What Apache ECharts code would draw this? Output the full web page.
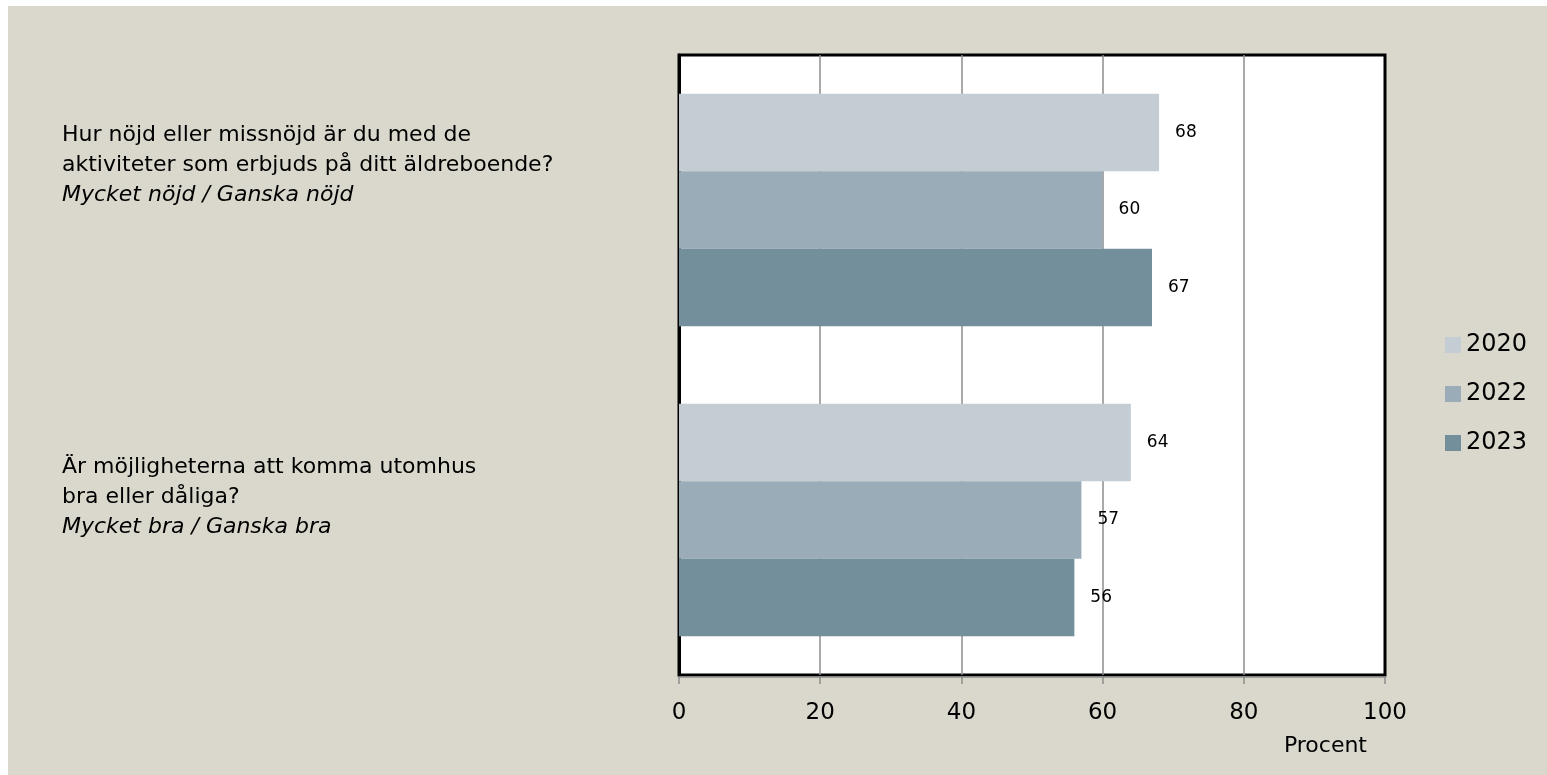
<!DOCTYPE html>
<html>
<head>
<meta charset="utf-8">
<script src="https://cdn.jsdelivr.net/npm/echarts@6/dist/echarts.min.js"></script>
<style>
html,body{margin:0;padding:0;background:#ffffff;}
#chart{position:absolute;left:8px;top:6px;width:1539px;height:769px;}
</style>
</head>
<body>
<div id="chart"></div>
<script>
var questionLines = [
  ["Hur nöjd eller missnöjd är du med de", "aktiviteter som erbjuds på ditt äldreboende?", "Mycket nöjd / Ganska nöjd"],
  ["Är möjligheterna att komma utomhus", "bra eller dåliga?", "Mycket bra / Ganska bra"]
];
var categories = ["Q1", "Q2"];
var seriesNames = ["2020", "2022", "2023"];
var values2020 = [68, 64];
var values2022 = [60, 57];
var values2023 = [67, 56];
var xTicks = [0, 20, 40, 60, 80, 100];
var xAxisName = "Procent";
var colors = ["#c3cdd3", "#99acb7", "#748f9c"];

var chart = echarts.init(document.getElementById('chart'));
var fontFam = "'DejaVu Sans', sans-serif";
function mkSeries(name, data, color) {
  return {
    name: name, type: 'bar', data: data,
    barGap: '0%', barCategoryGap: '25%',
    itemStyle: { color: color },
    label: { show: true, position: 'right', distance: 16, fontSize: 17, color: '#000', fontFamily: fontFam }
  };
}
chart.setOption({
  backgroundColor: '#dad8cc',
  textStyle: { fontFamily: fontFam },
  legend: {
    orient: 'vertical', left: 1432, top: 322,
    itemWidth: 16, itemHeight: 16, itemGap: 25,
    icon: 'rect',
    textStyle: { fontSize: 24, color: '#000', fontFamily: fontFam },
    data: seriesNames
  },
  grid: {
    left: 671, top: 49, width: 706, height: 620,
    show: true, backgroundColor: '#ffffff', borderColor: '#000', borderWidth: 3
  },
  xAxis: {
    type: 'value', min: xTicks[0], max: xTicks[xTicks.length - 1], interval: xTicks[1] - xTicks[0],
    offset: 2,
    name: xAxisName, nameLocation: 'end', nameGap: -18,
    nameTextStyle: { fontSize: 22, color: '#000', align: 'right', verticalAlign: 'top', padding: [58, 0, 0, 0], fontFamily: fontFam },
    axisLine: { show: true, lineStyle: { color: '#8c8c8c', width: 1.5 } },
    axisTick: { show: true, length: 7, lineStyle: { color: '#8c8c8c', width: 1.5 } },
    axisLabel: { fontSize: 23, color: '#000', margin: 25, fontFamily: fontFam },
    splitLine: { show: true, lineStyle: { color: ['#000', '#8c8c8c', '#8c8c8c', '#8c8c8c', '#8c8c8c', '#000'], width: 1.5 } }
  },
  yAxis: {
    type: 'category', data: categories, inverse: true,
    axisLine: { show: true, lineStyle: { color: '#000', width: 3 } },
    axisTick: { show: false },
    axisLabel: {
      align: 'left', margin: 617,
      formatter: function (v, i) {
        var l = questionLines[i];
        return '{n|' + l[0] + '}\n{n|' + l[1] + '}\n{i|' + l[2] + '}\n{' + (i === 0 ? 'g1' : 'g2') + '| }';
      },
      rich: {
        n: { fontSize: 22, lineHeight: 30, color: '#000', fontFamily: fontFam },
        i: { fontSize: 22, lineHeight: 30, color: '#000', fontStyle: 'italic', fontFamily: fontFam },
        g1: { fontSize: 10, lineHeight: 90 },
        g2: { fontSize: 10, lineHeight: 46 }
      }
    }
  },
  series: [
    mkSeries(seriesNames[0], values2020, colors[0]),
    mkSeries(seriesNames[1], values2022, colors[1]),
    mkSeries(seriesNames[2], values2023, colors[2])
  ]
});
</script>
</body>
</html>
